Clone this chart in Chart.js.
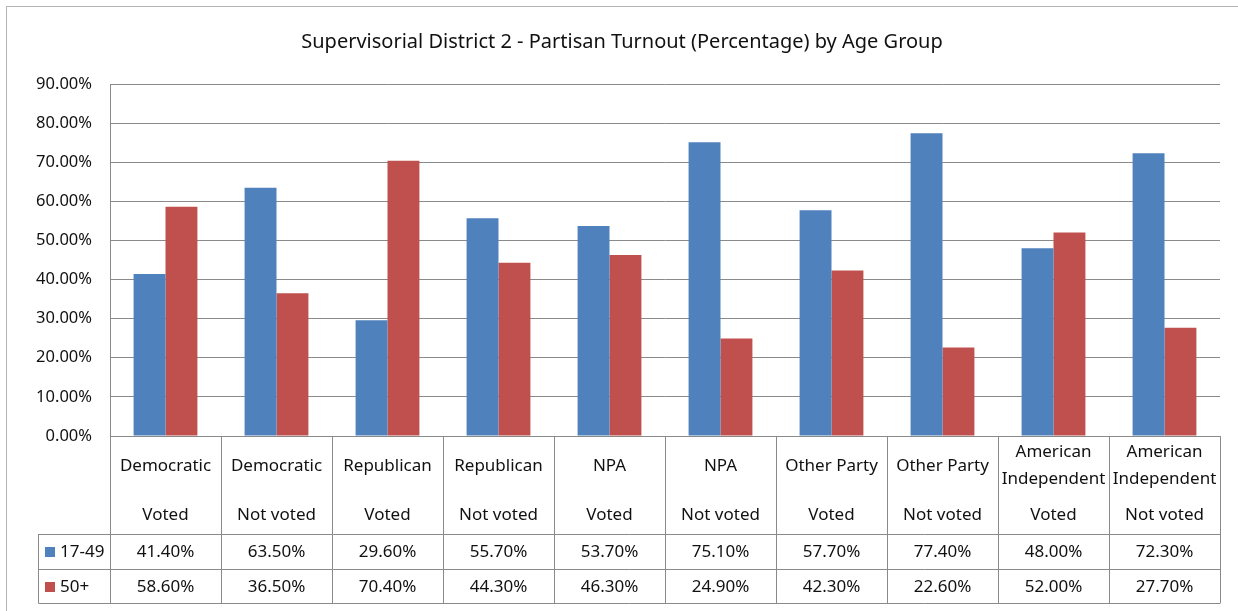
<!DOCTYPE html>
<html>
<head>
<meta charset="utf-8">
<script src="https://cdn.jsdelivr.net/npm/chart.js@4.4.1/dist/chart.umd.min.js"></script>
<style>
    html, body { margin: 0; padding: 0; background: #fff; }
</style>
</head>
<body>
<canvas id="chart" width="1238" height="611"></canvas>
<script>
'use strict';

const chartTitle = 'Supervisorial District 2 - Partisan Turnout (Percentage) by Age Group';
const parties = ['Democratic', 'Democratic', 'Republican', 'Republican', 'NPA', 'NPA',
    'Other Party', 'Other Party', ['American', 'Independent'], ['American', 'Independent']];
const statuses = ['Voted', 'Not voted', 'Voted', 'Not voted', 'Voted', 'Not voted',
    'Voted', 'Not voted', 'Voted', 'Not voted'];
const seriesNames = ['17-49', '50+'];
const age17to49 = [41.4, 63.5, 29.6, 55.7, 53.7, 75.1, 57.7, 77.4, 48.0, 72.3];
const age50plus = [58.6, 36.5, 70.4, 44.3, 46.3, 24.9, 42.3, 22.6, 52.0, 27.7];
const yTicks = [0, 10, 20, 30, 40, 50, 60, 70, 80, 90];

const blue = '#4F81BD';
const red = '#C0504D';
const gridColor = '#8a8a8a';
const textColor = '#111';
const font = '17px "Noto Sans"';
const pct = v => v.toFixed(2) + '%';

// draws the outer frame, the title and the data table under the plot
const tablePlugin = {
    id: 'dataTable',
    afterDraw(chart) {
        const ctx = chart.ctx;
        const area = chart.chartArea;
        const x = chart.scales.x;
        const n = parties.length;
        const cw = (area.right - area.left) / n;
        const rowTop = 534, row2 = 569, bottom = 603, keyLeft = 38.5;
        const colors = [blue, red];
        const series = [age17to49, age50plus];

        ctx.save();
        // outer frame
        ctx.strokeStyle = '#b4b4b4';
        ctx.lineWidth = 1;
        ctx.strokeRect(6.5, 6.5, 1300, 700);

        // title
        ctx.fillStyle = textColor;
        ctx.font = '20px "Noto Sans"';
        ctx.textAlign = 'center';
        ctx.textBaseline = 'middle';
        ctx.fillText(chartTitle, 622, 42);

        // table lines
        ctx.strokeStyle = gridColor;
        ctx.beginPath();
        ctx.moveTo(area.left, Math.round(area.bottom) + 0.5);
        ctx.lineTo(area.right, Math.round(area.bottom) + 0.5);
        [rowTop, row2, bottom].forEach(y => {
            ctx.moveTo(keyLeft, y + 0.5);
            ctx.lineTo(area.right, y + 0.5);
        });
        for (let i = 0; i <= n; i++) {
            const lx = Math.round(area.left + i * cw) + 0.5;
            ctx.moveTo(lx, area.bottom);
            ctx.lineTo(lx, bottom + 0.5);
        }
        ctx.moveTo(keyLeft, rowTop);
        ctx.lineTo(keyLeft, bottom + 0.5);
        ctx.stroke();

        // category labels and values
        ctx.font = font;
        ctx.fillStyle = textColor;
        for (let i = 0; i < n; i++) {
            const cx = x.getPixelForValue(i);
            const lines = Array.isArray(parties[i]) ? parties[i] : [parties[i]];
            const start = 466 - (lines.length - 1) * 13.5;
            lines.forEach((line, j) => ctx.fillText(line, cx, start + j * 27));
            ctx.fillText(statuses[i], cx, 515);
            series.forEach((vals, s) => {
                ctx.fillText(pct(vals[i]), cx, s === 0 ? 552 : 587);
            });
        }

        // legend keys
        ctx.textAlign = 'left';
        series.forEach((vals, s) => {
            const cy = s === 0 ? 552 : 587;
            ctx.fillStyle = colors[s];
            ctx.fillRect(45, cy - 5, 10, 10);
            ctx.fillStyle = textColor;
            ctx.fillText(seriesNames[s], 60, cy);
        });
        ctx.restore();
    }
};

new Chart(document.getElementById('chart'), {
    type: 'bar',
    data: {
        labels: parties.map((p, i) => [].concat(p, statuses[i])),
        datasets: [
            { label: seriesNames[0], data: age17to49, backgroundColor: blue },
            { label: seriesNames[1], data: age50plus, backgroundColor: red },
        ],
    },
    options: {
        responsive: false,
        animation: false,
        devicePixelRatio: 1,
        layout: { padding: { left: 0, top: 84, right: 18, bottom: 175 } },
        datasets: { bar: { categoryPercentage: 0.575, barPercentage: 1 } },
        plugins: { legend: { display: false }, tooltip: { enabled: false }, title: { display: false } },
        scales: {
            x: { display: false },
            y: {
                min: 0,
                max: 90,
                afterFit: s => { s.width = 110; },
                afterBuildTicks: s => { s.ticks = yTicks.map(v => ({ value: v })); },
                grid: { color: gridColor, drawTicks: false },
                border: { display: true, color: gridColor },
                ticks: {
                    padding: 18,
                    color: textColor,
                    font: { family: 'Noto Sans', size: 16.5 },
                    callback: v => pct(v),
                },
            },
        },
    },
    plugins: [tablePlugin],
});
</script>
</body>
</html>
